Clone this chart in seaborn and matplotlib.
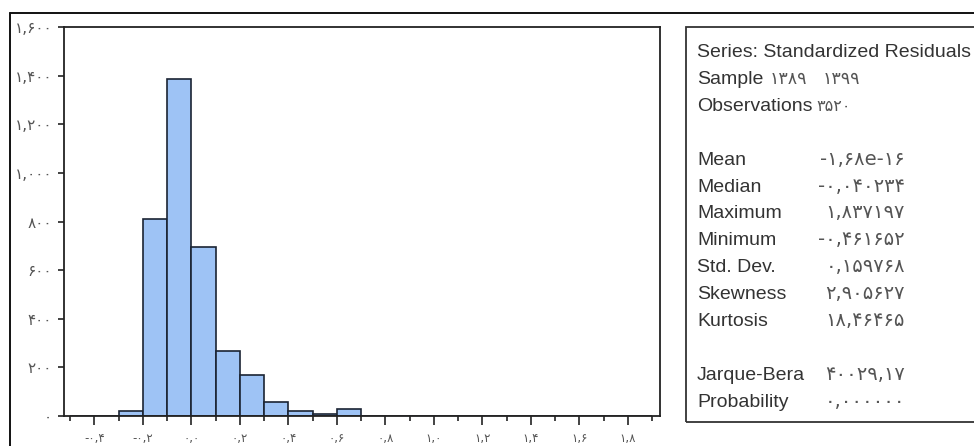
import numpy as np
import pandas as pd
import matplotlib
matplotlib.use("Agg")
import matplotlib.pyplot as plt
from matplotlib.patches import Rectangle
from matplotlib.lines import Line2D
from matplotlib.ticker import MultipleLocator
import seaborn as sns

# ---------------- data ----------------
bin_edges = [-0.5, -0.4, -0.3, -0.2, -0.1, 0.0, 0.1, 0.2, 0.3, 0.4, 0.5, 0.6,
             0.7, 0.8, 0.9, 1.0, 1.1, 1.2, 1.3, 1.4, 1.5, 1.6, 1.7, 1.8, 1.9]
counts = [1, 0, 22, 811, 1387, 694, 268, 169, 56, 22, 9, 28,
          2, 2, 0, 2, 0, 2, 0, 0, 0, 0, 0, 1]

y_ticks = [0, 200, 400, 600, 800, 1000, 1200, 1400, 1600]
y_tick_labels = ["۰", "۲۰۰", "۴۰۰", "۶۰۰", "۸۰۰", "۱,۰۰۰", "۱,۲۰۰", "۱,۴۰۰", "۱,۶۰۰"]
x_ticks = [-0.4, -0.2, 0.0, 0.2, 0.4, 0.6, 0.8, 1.0, 1.2, 1.4, 1.6, 1.8]
x_tick_labels = ["-۰,۴", "-۰,۲", "۰,۰", "۰,۲", "۰,۴", "۰,۶", "۰,۸", "۱,۰",
                 "۱,۲", "۱,۴", "۱,۶", "۱,۸"]

series_title = "Series: Standardized Residuals"
sample_label = "Sample"
sample_values = ["۱۳۸۹", "۱۳۹۹"]
obs_label = "Observations"
obs_value = "۳۵۲۰"
stat_names = ["Mean", "Median", "Maximum", "Minimum", "Std. Dev.", "Skewness",
              "Kurtosis", "", "Jarque-Bera", "Probability"]
stat_values = ["-۱,۶۸e-۱۶", "-۰,۰۴۰۲۳۴", "۱,۸۳۷۱۹۷", "-۰,۴۶۱۶۵۲", "۰,۱۵۹۷۶۸",
               "۲,۹۰۵۶۲۷", "۱۸,۴۶۴۶۵", "", "۴۰۰۲۹,۱۷", "۰,۰۰۰۰۰۰"]

# ---------------- figure ----------------
W, H = 974, 446
sns.set_style("white")
plt.rcParams["font.family"] = ["DejaVu Sans"]
fig = plt.figure(figsize=(W / 100, H / 100), dpi=100)

def fx(px):
    return px / W

def fy(py):
    return 1 - py / H

ax_left, ax_right, ax_top, ax_bottom = 64, 660, 27.3, 416
ax = fig.add_axes([fx(ax_left), fy(ax_bottom), fx(ax_right - ax_left), (ax_bottom - ax_top) / H])

edges = np.array(bin_edges)
centers = (edges[:-1] + edges[1:]) / 2
df = pd.DataFrame({"value": centers, "count": np.array(counts, dtype=float)})
sns.histplot(data=df, x="value", weights="count",
             binwidth=0.1, binrange=(bin_edges[0], bin_edges[-1]),
             ax=ax, color="#9ec3f5", alpha=1.0, edgecolor="#1b2433", linewidth=1.2)

ax.set_xlim(-0.525, 1.932)
ax.set_ylim(0, 1600)
ax.set_xlabel("")
ax.set_ylabel("")
ax.set_yticks(y_ticks)
ax.set_yticklabels(y_tick_labels, fontsize=11, color="#555555")
ax.set_xticks(x_ticks)
ax.set_xticklabels(x_tick_labels, fontsize=8.5, color="#555555")
ax.xaxis.set_minor_locator(MultipleLocator(0.1))
ax.tick_params(axis="y", which="major", direction="out", length=4.5, width=1.2,
               color="#222222", left=True, pad=4)
ax.tick_params(axis="x", which="major", direction="out", length=6.5, width=1.2,
               color="#222222", bottom=True, pad=5)
ax.tick_params(axis="x", which="minor", direction="out", length=3.5, width=1.2,
               color="#222222", bottom=True)
for s in ax.spines.values():
    s.set_visible(True)
    s.set_color("#222222")
    s.set_linewidth(1.3)

# outer frame (top and left edges)
fig.add_artist(Line2D([fx(10), 1.0], [fy(13), fy(13)], color="#111111", lw=1.4))
fig.add_artist(Line2D([fx(10), fx(10)], [fy(13), 0.0], color="#111111", lw=1.4))

# statistics box
fig.add_artist(Rectangle((fx(686), fy(422)), fx(320), (422 - 27) / H,
                         facecolor="none", edgecolor="#333333", lw=1.3))

lab_font = dict(family=["Liberation Sans", "DejaVu Sans"], fontsize=14, color="#333333")
val_font = dict(family=["DejaVu Sans"], fontsize=14, color="#555555")

base0, step = 57, 26.9
lab_x, val_x = 697, 905

fig.text(fx(lab_x), fy(base0), series_title, va="baseline", ha="left", **lab_font)
fig.text(fx(lab_x), fy(base0 + step), sample_label, va="baseline", ha="left", **lab_font)
fig.text(fx(770), fy(base0 + step), sample_values[0], va="baseline", ha="left",
         family=["DejaVu Sans"], fontsize=12.5, color="#555555")
fig.text(fx(823), fy(base0 + step), sample_values[1], va="baseline", ha="left",
         family=["DejaVu Sans"], fontsize=12.5, color="#555555")
fig.text(fx(lab_x), fy(base0 + 2 * step), obs_label, va="baseline", ha="left", **lab_font)
fig.text(fx(816), fy(base0 + 2 * step), obs_value, va="baseline", ha="left",
         family=["DejaVu Sans"], fontsize=11.5, color="#555555")

for i, (nm, vl) in enumerate(zip(stat_names, stat_values)):
    yb = base0 + (4 + i) * step
    if nm:
        fig.text(fx(lab_x), fy(yb), nm, va="baseline", ha="left", **lab_font)
    if vl:
        fig.text(fx(val_x), fy(yb), vl, va="baseline", ha="right", **val_font)

fig.savefig("out.png", dpi=100)
